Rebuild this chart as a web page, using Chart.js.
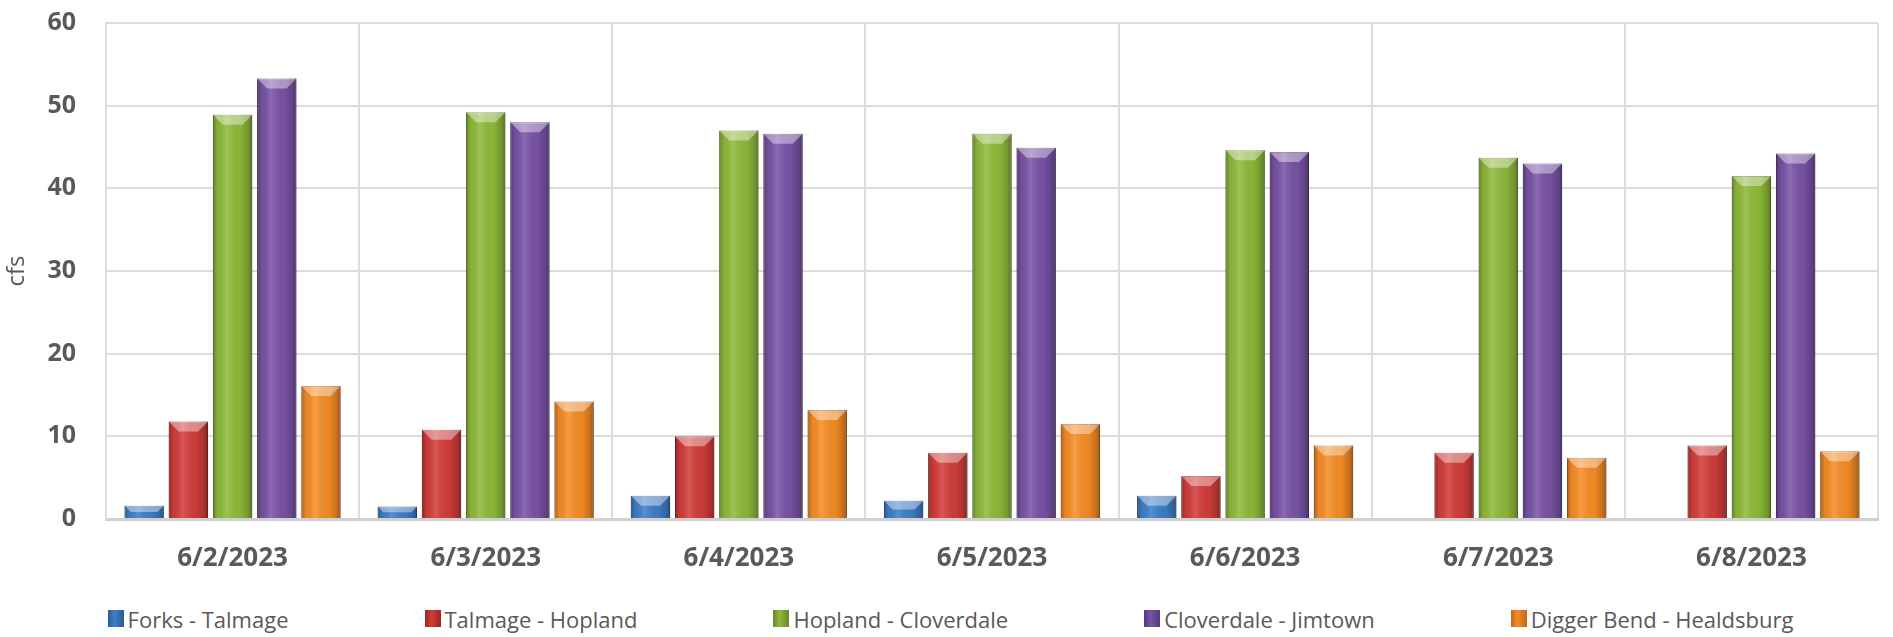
<!DOCTYPE html>
<html>
<head>
<meta charset="utf-8">
<script src="https://cdn.jsdelivr.net/npm/chart.js@4.4.0/dist/chart.umd.min.js"></script>
<style>
  html, body { margin: 0; padding: 0; background: #fff; }
  #wrap { width: 1893px; height: 637px; position: relative; }
  #box { width: 1893px; height: 600px; position: relative; }
  #legend { height: 37px; display: flex; justify-content: center; align-items: center; gap: 136px;
    font-family: "Open Sans", sans-serif; font-size: 22px; color: #595959; padding-left: 8px; }
  #legend .item { display: flex; align-items: center; white-space: nowrap; }
  #legend .sw { width: 16px; height: 17px; margin-right: 4px; }
</style>
</head>
<body>
<div id="wrap">
  <div id="box"><canvas id="chart"></canvas></div>
  <div id="legend"></div>
</div>
<script>
const dates = ["6/2/2023", "6/3/2023", "6/4/2023", "6/5/2023", "6/6/2023", "6/7/2023", "6/8/2023"];
const seriesNames = ["Forks - Talmage", "Talmage - Hopland", "Hopland - Cloverdale", "Cloverdale - Jimtown", "Digger Bend - Healdsburg"];
const forksTalmage = [1.6, 1.5, 2.8, 2.2, 2.8, 0, 0];
const talmageHopland = [11.8, 10.8, 10.0, 8.0, 5.2, 8.0, 8.9];
const hoplandCloverdale = [48.9, 49.2, 47.0, 46.6, 44.6, 43.7, 41.5];
const cloverdaleJimtown = [53.3, 48.0, 46.6, 44.9, 44.4, 43.0, 44.2];
const diggerHealdsburg = [16.1, 14.2, 13.2, 11.5, 8.9, 7.4, 8.2];
const yTicks = [0, 10, 20, 30, 40, 50, 60];

const fills = ["#3e7fc8", "#d23d3a", "#8fba3a", "#7953a6", "#f78d25"];
const edges = ["#2a5a94", "#982826", "#66882a", "#553a78", "#c2661a"];
const values = [forksTalmage, talmageHopland, hoplandCloverdale, cloverdaleJimtown, diggerHealdsburg];

// bevelled look like the Excel bars
const bevel = {
  id: "bevel",
  afterDatasetsDraw(chart) {
    const ctx = chart.ctx;
    ctx.save();
    chart.data.datasets.forEach((ds, i) => {
      chart.getDatasetMeta(i).data.forEach(bar => {
        const p = bar.getProps(["x", "y", "base", "width"], true);
        const h = p.base - p.y;
        if (h < 0.5) return;
        const l = p.x - p.width / 2, r = p.x + p.width / 2;
        const g = ctx.createLinearGradient(l, 0, r, 0);
        g.addColorStop(0, "rgba(0,0,0,0.3)");
        g.addColorStop(0.12, "rgba(0,0,0,0.05)");
        g.addColorStop(0.35, "rgba(255,255,255,0.14)");
        g.addColorStop(0.7, "rgba(0,0,0,0.04)");
        g.addColorStop(0.9, "rgba(0,0,0,0.2)");
        g.addColorStop(1, "rgba(0,0,0,0.38)");
        ctx.fillStyle = g;
        ctx.fillRect(l, p.y, p.width, h);
        const b = Math.min(10, h / 2);
        ctx.beginPath();
        ctx.moveTo(l, p.y);
        ctx.lineTo(r, p.y);
        ctx.lineTo(r - b, p.y + b);
        ctx.lineTo(l + b, p.y + b);
        ctx.closePath();
        ctx.fillStyle = "rgba(255,255,255,0.4)";
        ctx.fill();
      });
    });
    ctx.restore();
  }
};

new Chart(document.getElementById("chart"), {
  type: "bar",
  data: {
    labels: dates,
    datasets: seriesNames.map((name, i) => ({
      label: name,
      data: values[i],
      backgroundColor: fills[i],
      borderColor: edges[i],
      borderWidth: 1,
      categoryPercentage: 0.873,
      barPercentage: 0.89,
    })),
  },
  options: {
    responsive: true,
    maintainAspectRatio: false,
    animation: false,
    layout: { padding: { left: 0, right: 15, top: 23, bottom: 0 } },
    plugins: { legend: { display: false }, tooltip: { enabled: false } },
    scales: {
      x: {
        grid: { color: "#dcdcdc", lineWidth: 2, drawTicks: false, offset: true },
        border: { color: "#d0d0d0", width: 3 },
        ticks: { color: "#595959", padding: 24, font: { family: "Open Sans", size: 26, weight: "bold" } },
        afterFit: (s) => { s.height = 81; },
      },
      y: {
        min: 0,
        max: 60,
        afterBuildTicks: (s) => { s.ticks = yTicks.map(v => ({ value: v })); },
        grid: { color: "#dcdcdc", lineWidth: 2, drawTicks: false },
        border: { color: "#dcdcdc", width: 2 },
        ticks: { color: "#595959", padding: 30, font: { family: "Open Sans", size: 25, weight: "bold" } },
        title: { display: true, text: "cfs", color: "#595959", padding: { top: 3, bottom: 0 },
                 font: { family: "Open Sans", size: 24 } },
        afterFit: (s) => { s.width = 106; s.paddingTop = 0; s.paddingBottom = 0; },
      },
    },
  },
  plugins: [bevel],
});

const legend = document.getElementById("legend");
seriesNames.forEach((name, i) => {
  const item = document.createElement("div");
  item.className = "item";
  const sw = document.createElement("span");
  sw.className = "sw";
  sw.style.background = "linear-gradient(90deg, " + edges[i] + ", " + fills[i] + " 40%, " + edges[i] + ")";
  const tx = document.createElement("span");
  tx.textContent = name;
  item.appendChild(sw);
  item.appendChild(tx);
  legend.appendChild(item);
});
</script>
</body>
</html>
